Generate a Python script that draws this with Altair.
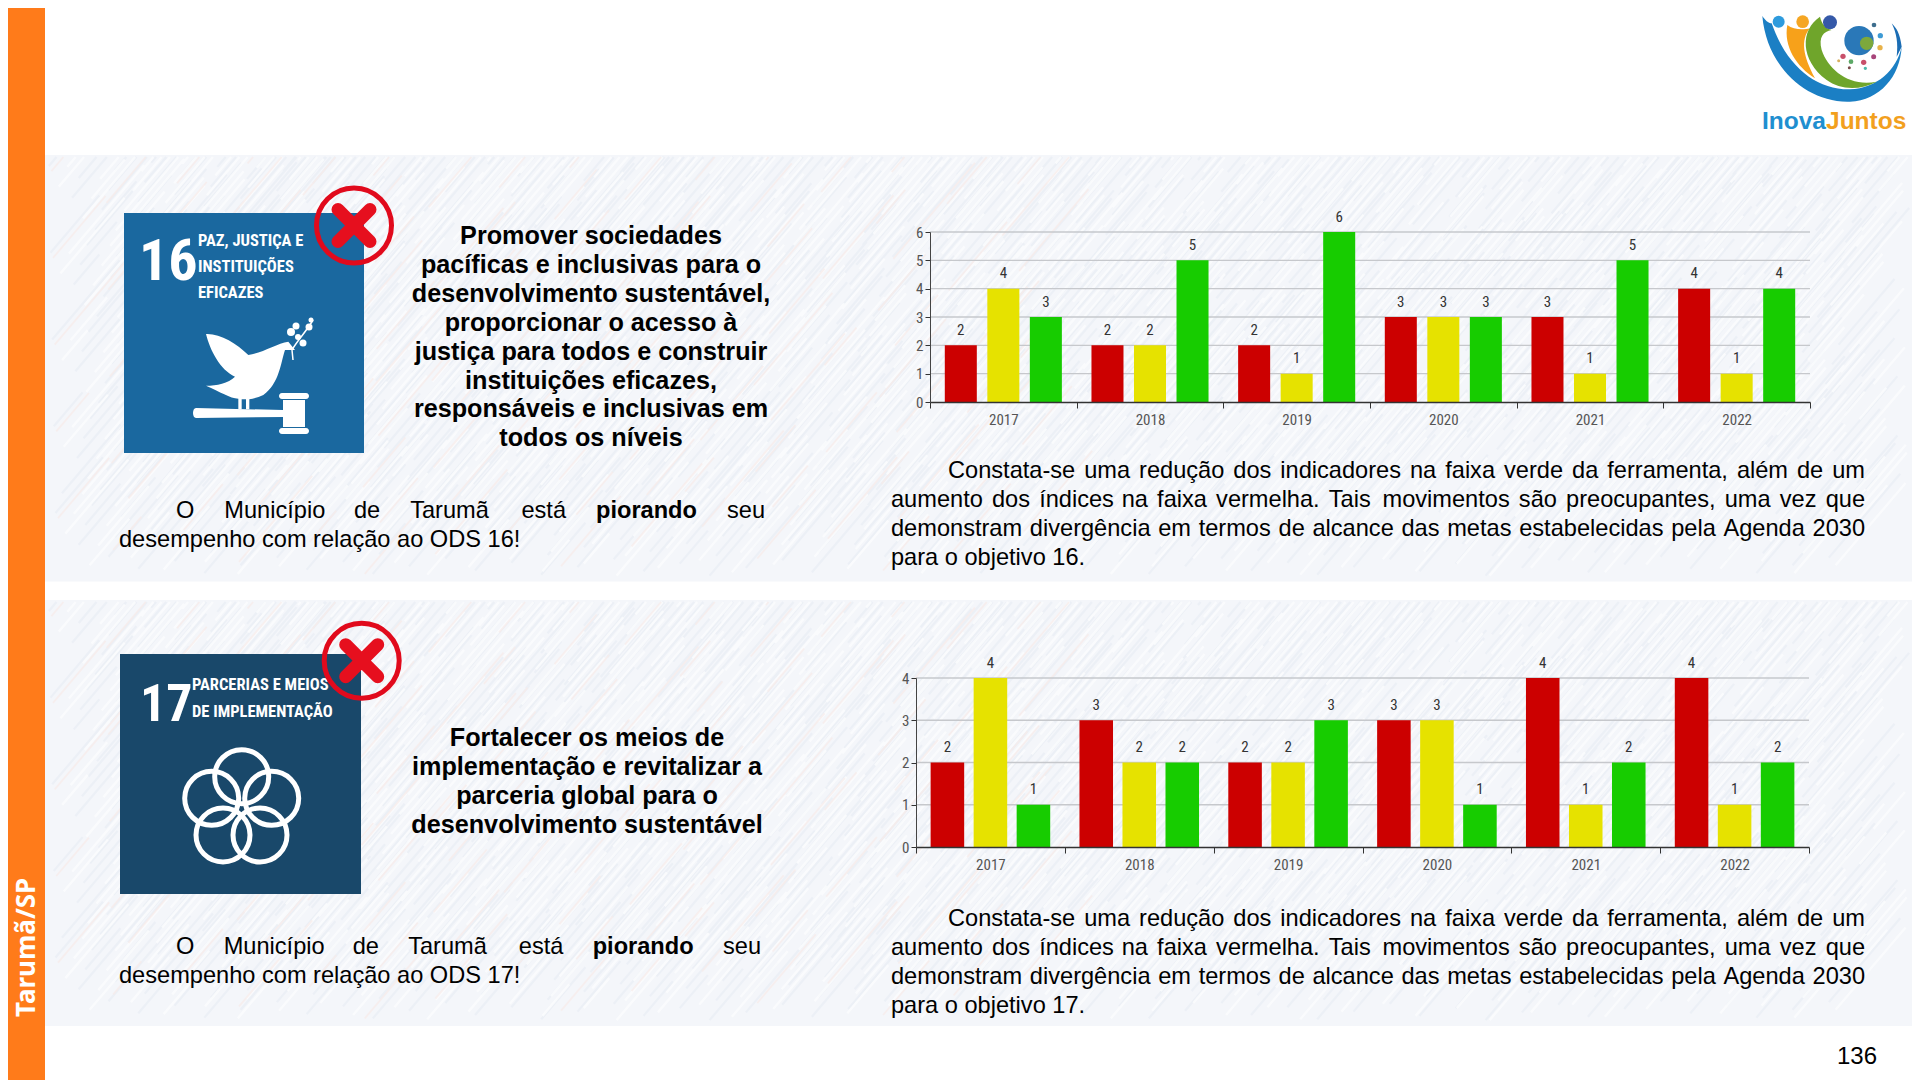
import re, unicodedata
import altair as alt
import pandas as pd

ANOS = ["2017", "2018", "2019", "2020", "2021", "2022"]
FAIXAS = ["Vermelho", "Amarelo", "Verde"]
CORES = ["#CC0000", "#E6E200", "#17CC00"]
ODS16 = {"Vermelho": [2, 2, 2, 3, 3, 4], "Amarelo": [4, 2, 1, 3, 1, 1], "Verde": [3, 5, 6, 3, 5, 4]}
ODS17 = {"Vermelho": [2, 3, 2, 3, 4, 4], "Amarelo": [4, 2, 2, 3, 1, 1], "Verde": [1, 2, 3, 1, 2, 2]}

TITULO16 = ["Promover sociedades", "pacíficas e inclusivas para o", "desenvolvimento sustentável,",
            "proporcionar o acesso à", "justiça para todos e construir", "instituições eficazes,",
            "responsáveis e inclusivas em", "todos os níveis"]
TITULO17 = ["Fortalecer os meios de", "implementação e revitalizar a", "parceria global para o",
            "desenvolvimento sustentável"]
MUNI = "O Município de Tarumã está piorando seu"
DESEMP = "desempenho com relação ao ODS {}!"
CORPO = ["Constata-se uma redução dos indicadores na faixa verde da ferramenta, além de um",
         "aumento dos índices na faixa vermelha. Tais movimentos são preocupantes, uma vez que",
         "demonstram divergência em termos de alcance das metas estabelecidas pela Agenda 2030",
         "para o objetivo {}."]

W, H = 1904, 1072
BODY = "Liberation Sans"
NARROW = "'Roboto Condensed','Liberation Sans'"
BSIZE = 23.6
ONE = alt.Data(values=[{"a": 1}])
layers = []

AFM = dict(zip("abcdefghijklmnopqrstuvwxyz",
               [556,556,500,556,556,278,556,556,222,222,500,222,833,556,556,556,556,333,500,278,556,500,722,500,500,500]))
AFM.update(dict(zip("ABCDEFGHIJKLMNOPQRSTUVWXYZ",
               [667,667,722,722,667,611,778,722,278,500,667,556,833,722,778,667,778,722,667,611,722,667,944,667,667,611])))
AFM.update({",": 278, ".": 278, "-": 333, "!": 278})
AFMB = dict(zip("piorand", [611, 278, 611, 389, 556, 611, 611]))


def tw(word, size, bold=False):
    s = unicodedata.normalize("NFD", word)
    tab = AFMB if bold else AFM
    return sum(tab.get(c, AFM.get(c, 556)) for c in s if not unicodedata.combining(c)) * size / 1000


def rect(x0, y0, x1, y1, color, **kw):
    layers.append(alt.Chart(ONE).mark_rect(color=color, **kw).encode(
        x=alt.value(x0 - 8), x2=alt.value(x1 - 8), y=alt.value(y0 - 8), y2=alt.value(y1 - 8)))


def tr(d, ox=0, oy=0, k=1.0):
    n = [0]
    def f(m):
        v = float(m.group())
        r = v * k + (ox if n[0] % 2 == 0 else oy) - (8)
        n[0] += 1
        return f"{r:.2f}"
    return re.sub(r"-?\d+\.?\d*", f, d)


def shape(d, fill=None, stroke=None, sw=0, **kw):
    if fill:
        m = alt.Chart(ONE).mark_point(shape=d, size=4, filled=True, fill=fill, opacity=kw.pop("opacity", 1), **kw)
    else:
        m = alt.Chart(ONE).mark_point(shape=d, size=4, filled=False, stroke=stroke, strokeWidth=sw,
                                      opacity=kw.pop("opacity", 1), **kw)
    layers.append(m.encode(x=alt.value(0), y=alt.value(0)))


def dot(x, y, d, fill=None, stroke=None, sw=0):
    if fill:
        m = alt.Chart(ONE).mark_point(shape="circle", size=d * d, filled=True, fill=fill, opacity=1)
    else:
        m = alt.Chart(ONE).mark_point(shape="circle", size=d * d, filled=False, stroke=stroke, strokeWidth=sw, opacity=1)
    layers.append(m.encode(x=alt.value(x - 8), y=alt.value(y - 8)))


def texts(rows, **style):
    df = pd.DataFrame(rows, columns=["x", "y", "t"])
    df["x"] -= 8
    df["y"] -= 8
    layers.append(alt.Chart(df).mark_text(baseline="alphabetic", **style).encode(
        x=alt.X("x:Q", scale=None, axis=None), y=alt.Y("y:Q", scale=None, axis=None), text="t:N"))


def justified(line, xl, xr, y, size=BSIZE, boldwords=()):
    words = line.split(" ")
    widths = [tw(w, size, w in boldwords) for w in words]
    gap = (xr - xl - sum(widths)) / (len(words) - 1)
    x = xl
    reg, bold = [], []
    for w, wd in zip(words, widths):
        (bold if w in boldwords else reg).append((x, y, w))
        x += wd + gap
    return reg, bold


def streaks(y0, y1, color, step, sw, op, x0=46, x1=1912, seed=7):
    parts = []
    n = int((x1 - x0) / step)
    for i in range(n):
        for j in range(5):
            a = (i * 37 + j * 101 + seed) % 97 / 97
            b = (i * 53 + j * 29 + seed) % 89 / 89
            L = 40 + 90 * b
            x = x0 + i * step + 40 * a
            y = y0 + (y1 - y0 - 10) * ((j + a) / 5) + 5
            dy = L * 0.75
            ya = min(y, y1 - 2)
            yb = max(y - dy, y0 + 2)
            xb = x + (ya - yb) * 0.85
            if xb > x1 - 1 or ya <= yb:
                continue
            parts.append(f"M{x - 8:.1f} {ya - 8:.1f}L{xb - 8:.1f} {yb - 8:.1f}")
    layers.append(alt.Chart(ONE).mark_point(shape="".join(parts), size=4, filled=False, stroke=color,
                                            strokeWidth=sw, opacity=op).encode(x=alt.value(0), y=alt.value(0)))


def bars(values, xr, yr, domain_max, pi, po):
    df = pd.DataFrame([{"ano": a, "faixa": f, "v": values[f][i]} for f in FAIXAS for i, a in enumerate(ANOS)])
    xs = alt.Scale(type="band", domain=ANOS, range=[xr[0] - 8, xr[1] - 8], paddingInner=0, paddingOuter=0)
    ys = alt.Scale(domain=[0, domain_max], range=[yr[0] - 8, yr[1] - 8], nice=False, zero=True)
    os_ = alt.Scale(type="band", domain=FAIXAS, paddingInner=pi, paddingOuter=po)
    ticks = list(range(domain_max + 1))
    grid = pd.DataFrame({"v": ticks[1:]})
    layers.append(alt.Chart(grid).mark_rule(color="#c6c8cc", strokeWidth=1.4).encode(
        y=alt.Y("v:Q", scale=ys, axis=None), x=alt.value(xr[0] - 8), x2=alt.value(xr[1] - 8)))
    layers.append(alt.Chart(df).mark_bar().encode(
        x=alt.X("ano:N", sort=ANOS, scale=xs, title=None, axis=alt.Axis(
            orient="bottom", offset=-(H - (yr[0] - 8)), tickBand="extent", labelAngle=0, tickSize=6, labelPadding=4,
            labelFont=NARROW, labelFontSize=15, labelColor="#555555", tickColor="#333333", domainColor="#333333",
            domainWidth=1.4, grid=False, zindex=1)),
        xOffset=alt.XOffset("faixa:N", sort=FAIXAS, scale=os_),
        y=alt.Y("v:Q", scale=ys, title=None, axis=alt.Axis(
            orient="left", offset=-(xr[0] - 8), values=ticks, format="d", domain=True, domainColor="#444444", tickSize=5,
            labelPadding=2, labelFont=NARROW, labelFontSize=15, labelColor="#555555", tickColor="#333333", grid=False,
            zindex=1)),
        color=alt.Color("faixa:N", scale=alt.Scale(domain=FAIXAS, range=CORES), legend=None)))
    layers.append(alt.Chart(df).mark_text(baseline="middle", dy=-15.5, font=NARROW, fontSize=15, color="#333333").encode(
        x=alt.X("ano:N", sort=ANOS, scale=xs, axis=None),
        xOffset=alt.XOffset("faixa:N", sort=FAIXAS, scale=os_),
        y=alt.Y("v:Q", scale=ys, axis=None),
        text="v:Q"))


# page backdrop and bands
for y0, y1 in [(155, 581.5), (600, 1026)]:
    rect(45, y0, 1912, y1, "#f4f6fa")
    streaks(y0, y1, "#ebeff6", 8, 2.2, 0.8)
    streaks(y0, y1, "#fcfdfe", 9, 2.4, 0.8, seed=31)
    streaks(y0, y1, "#f8ecea", 40, 1.8, 0.7, x1=1100, seed=13)
rect(8, 8, 45, 1080, "#FF7B1A")
layers.append(alt.Chart(ONE).mark_text(text="Tarumã/SP", angle=270, align="left", baseline="middle", font="Noto Sans",
                                       fontWeight="bold", fontSize=26, color="#ffffff").encode(
    x=alt.value(27 - 8), y=alt.value(1017 - 8)))

# ODS 16 tile
rect(124, 213, 364, 453, "#1A689F")
texts([(139, 280, "16")], font=NARROW, fontWeight="bold", fontSize=58, color="#ffffff", align="left")
texts([(198, 246, "PAZ, JUSTIÇA E"), (198, 272, "INSTITUIÇÕES"), (198, 298, "EFICAZES")],
      font=NARROW, fontWeight="bold", fontSize=16.5, color="#ffffff", align="left")
DOVE = ("M258 42 C300 40 350 70 385 105 C425 100 470 70 505 65 L525 90 L495 90 C482 130 478 190 430 225 "
        "C415 232 400 236 388 238 L388 268 L378 268 L378 238 L365 238 L365 268 L355 268 L355 236 "
        "C330 235 300 215 258 197 C290 197 325 190 345 170 C300 150 270 90 258 42 Z")
shape(tr(DOVE, 120, 320, 1 / 3), fill="#ffffff")
GAVEL = ("M196 408 L283 410 L283 400 L305 400 L305 427 L283 427 L283 417 L196 418 C192 418 192 408 196 408 Z "
         "M282 393 L306 393 C310 393 310 399 306 399 L282 399 C278 399 278 393 282 393 Z "
         "M282 428 L306 428 C310 428 310 434 306 434 L282 434 C278 434 278 428 282 428 Z")
shape(tr(GAVEL), fill="#ffffff")
shape(tr("M293 360 L292 350 C296 342 306 332 313 320"), stroke="#ffffff", sw=1.5)
for lx, ly, ld in [(291, 332, 8), (296, 326, 7), (309, 327, 7), (303, 343, 7), (298, 337, 6), (311, 320, 5)]:
    dot(lx, ly, ld, fill="#ffffff")

# ODS 17 tile
rect(120, 654, 361, 894, "#19486A")
texts([(140, 721, "17")], font=NARROW, fontWeight="bold", fontSize=52, color="#ffffff", align="left")
texts([(192, 690, "PARCERIAS E MEIOS"), (192, 717, "DE IMPLEMENTAÇÃO")],
      font=NARROW, fontWeight="bold", fontSize=16.5, color="#ffffff", align="left")
for cx, cy in [(241.7, 776.7), (211.7, 798.3), (271.7, 798.3), (223, 835), (260, 835)]:
    dot(cx, cy, 54, stroke="#ffffff", sw=5)

# red crosses
for cx, cy in [(354, 225.5), (361.7, 660.7)]:
    shape(tr(f"M{cx-16} {cy-16} L{cx+16} {cy+16} M{cx+16} {cy-16} L{cx-16} {cy+16}"),
          stroke="#E60F1E", sw=13, strokeCap="round")
    dot(cx, cy, 75, stroke="#E10A1C", sw=5)

# headings
texts([(591, 244 + 28.9 * i, s) for i, s in enumerate(TITULO16)], font=BODY, fontWeight="bold", fontSize=25.2,
      color="#000000", align="center")
texts([(587, 746 + 28.9 * i, s) for i, s in enumerate(TITULO17)], font=BODY, fontWeight="bold", fontSize=25.2,
      color="#000000", align="center")

# paragraphs
reg, bold = [], []
for xr, base, nods in [(765, 517.7, 16), (761, 953.7, 17)]:
    r, b = justified(MUNI, 176, xr, base, boldwords=("piorando",))
    reg += r
    bold += b
    reg.append((119, base + 29, DESEMP.format(nods)))
for base, nods in [(478, 16), (926, 17)]:
    for i, l in enumerate(CORPO):
        if i == 3:
            reg.append((891, base + 29 * i, l.format(nods)))
        else:
            r, _ = justified(l, 948 if i == 0 else 891, 1865, base + 29 * i)
            reg += r
texts(reg, font=BODY, fontSize=BSIZE, color="#000000", align="left")
texts(bold, font=BODY, fontWeight="bold", fontSize=BSIZE, color="#000000", align="left")
texts([(1877, 1064, "136")], font=BODY, fontSize=24, color="#000000", align="right")

# charts
bars(ODS16, (930, 1810), (402, 232), 6, 0.247, 0.348)
bars(ODS17, (916, 1809), (847, 678), 4, 0.22, 0.34)

# logo (InovaJuntos)
LX, LY, LK = 1700, 0, 1 / 3
shape(tr("M187 48 C200 200 320 310 450 305 C540 300 600 230 605 140 C590 210 530 265 450 268 "
         "C350 270 260 200 215 70 C205 70 195 60 187 48 Z", LX, LY, LK), fill="#1B7FC4")
shape(tr("M262 75 C250 140 290 200 345 235 C310 170 300 120 330 85 C310 90 280 90 262 75 Z", LX, LY, LK), fill="#F7A11A")
shape(tr("M360 50 C300 90 300 180 380 240 C420 270 480 272 530 245 C450 262 385 210 365 150 C355 110 370 95 395 90 "
         "C375 85 365 70 360 50 Z", LX, LY, LK), fill="#6FA52B")
shape(tr("M605 140 C600 100 590 85 575 70 C590 100 595 130 590 170 Z", LX, LY, LK), fill="#1B6DB4")
for zx, zy, zd, zc in [(236, 65, 36, "#2E9BDD"), (308, 65, 38, "#F5A623"), (390, 67, 42, "#3559A8"),
                       (477, 122, 88, "#2A78B8"), (500, 130, 40, "#7DA83C"), (522, 75, 14, "#3E6E8E"),
                       (541, 107, 16, "#3E9BD5"), (540, 143, 16, "#E8B24A"), (429, 169, 16, "#C8506A"),
                       (453, 185, 14, "#5CA866"), (491, 187, 16, "#C8506A"), (521, 170, 15, "#A8457A"),
                       (496, 205, 10, "#4CB8A8"), (448, 203, 9, "#7A4A4A"), (416, 182, 9, "#D8B060")]:
    dot(LX + zx * LK, LY + zy * LK, zd * LK, fill=zc)
texts([(1826, 129, "Inova")], font=BODY, fontWeight="bold", fontSize=24.5, color="#1F8FD0", align="right")
texts([(1826, 129, "Juntos")], font=BODY, fontWeight="bold", fontSize=24.5, color="#F2A01E", align="left")

chart = alt.layer(*layers).resolve_scale(x="independent", y="independent", xOffset="independent").properties(
    width=W, height=H, padding=0, background="#ffffff",
    autosize=alt.AutoSizeParams(type="none", contains="padding"),
).configure_view(stroke=None)

chart.save("out.html", embed_options={"renderer": "svg", "actions": False})
